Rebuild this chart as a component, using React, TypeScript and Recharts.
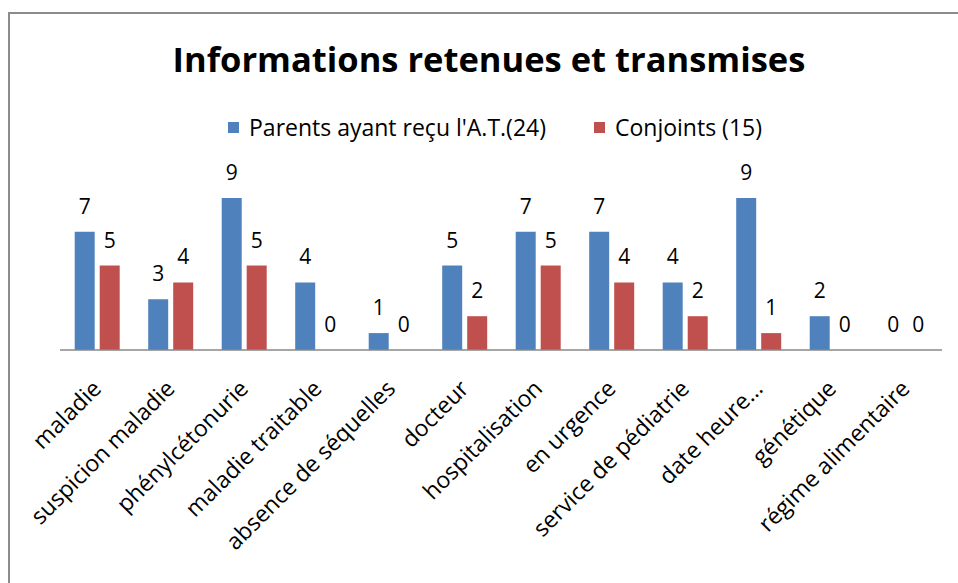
import { BarChart, Bar, XAxis, YAxis, LabelList, Rectangle } from 'recharts';

const categories = [
  'maladie',
  'suspicion maladie',
  'phénylcétonurie',
  'maladie traitable',
  'absence de séquelles',
  'docteur',
  'hospitalisation',
  'en urgence',
  'service de pédiatrie',
  'date heure…',
  'génétique',
  'régime alimentaire',
];
const parents = [7, 3, 9, 4, 1, 5, 7, 7, 4, 9, 2, 0];
const conjoints = [5, 4, 5, 0, 0, 2, 5, 4, 2, 1, 0, 0];
const seriesNames = ["Parents ayant reçu l'A.T.(24)", 'Conjoints (15)'];

const BLUE = '#4F81BD';
const RED = '#C0504D';
const FONT = '"Open Sans", Lato, sans-serif';

const data = categories.map((name, i) => ({ name, parents: parents[i], conjoints: conjoints[i] }));

// eslint-disable-next-line @typescript-eslint/no-explicit-any
function CategoryTick({ x, y, payload }: any) {
  const ax = x + 6;
  const ay = y + 32;
  return (
    <text x={ax} y={ay} textAnchor="end" fontSize={23} fontFamily={FONT} fill="#000" transform={`rotate(-45, ${ax}, ${ay})`}>
      {payload.value}
    </text>
  );
}

// eslint-disable-next-line @typescript-eslint/no-explicit-any
function ValueLabel({ x, y, width, value }: any) {
  return (
    <text x={x + width / 2} y={y - 18} textAnchor="middle" fontSize={21} fontFamily={FONT} fill="#000">
      {value}
    </text>
  );
}

// zero-value bars get a tiny min size so their labels still show; don't draw them
// eslint-disable-next-line @typescript-eslint/no-explicit-any
function BarShape(props: any) {
  if (props.height < 0.5) return <g />;
  return <Rectangle {...props} />;
}

function LegendBox() {
  const items = [
    { name: seriesNames[0], color: BLUE },
    { name: seriesNames[1], color: RED },
  ];
  return (
    <div style={{ display: 'flex', justifyContent: 'center', gap: 48, fontFamily: FONT, fontSize: 23 }}>
      {items.map((it) => (
        <div key={it.name} style={{ display: 'flex', alignItems: 'center', gap: 10 }}>
          <span style={{ width: 11, height: 11, background: it.color, display: 'inline-block' }}></span>
          {it.name}
        </div>
      ))}
    </div>
  );
}

const minSize = (v: number) => (v === 0 ? 0.1 : 0);

export default function App() {
  return (
    <div style={{ position: 'fixed', left: 0, top: 0, width: 958, height: 583, background: '#fff', overflow: 'hidden' }}>
      <div style={{ position: 'absolute', left: 8, top: 12, width: 960, height: 600, border: '2px solid #8c8c8c', boxSizing: 'border-box' }} />
      <div style={{ position: 'absolute', left: 0, top: 35, width: 978, textAlign: 'center', fontFamily: FONT, fontWeight: 'bold', fontSize: 34.5, color: '#000' }}>
        Informations retenues et transmises
      </div>
      <div style={{ position: 'absolute', left: 0, top: 111, width: 990 }}>
        <LegendBox />
      </div>
      <div style={{ position: 'absolute', left: 0, top: 0 }}>
        <BarChart
          width={958}
          height={583}
          data={data}
          margin={{ top: 181, right: 16, bottom: 0, left: 60 }}
          barCategoryGap="20%"
          barGap={5}
        >
          <XAxis
            dataKey="name"
            axisLine={{ stroke: '#888', strokeWidth: 1.5 }}
            tickLine={false}
            height={233}
            interval={0}
            tick={<CategoryTick />}
          />
          <YAxis hide domain={[0, 10]} />
          <Bar dataKey="parents" name={seriesNames[0]} fill={BLUE} minPointSize={minSize} shape={<BarShape />} isAnimationActive={false}>
            <LabelList dataKey="parents" content={<ValueLabel />} />
          </Bar>
          <Bar dataKey="conjoints" name={seriesNames[1]} fill={RED} minPointSize={minSize} shape={<BarShape />} isAnimationActive={false}>
            <LabelList dataKey="conjoints" content={<ValueLabel />} />
          </Bar>
        </BarChart>
      </div>
    </div>
  );
}
